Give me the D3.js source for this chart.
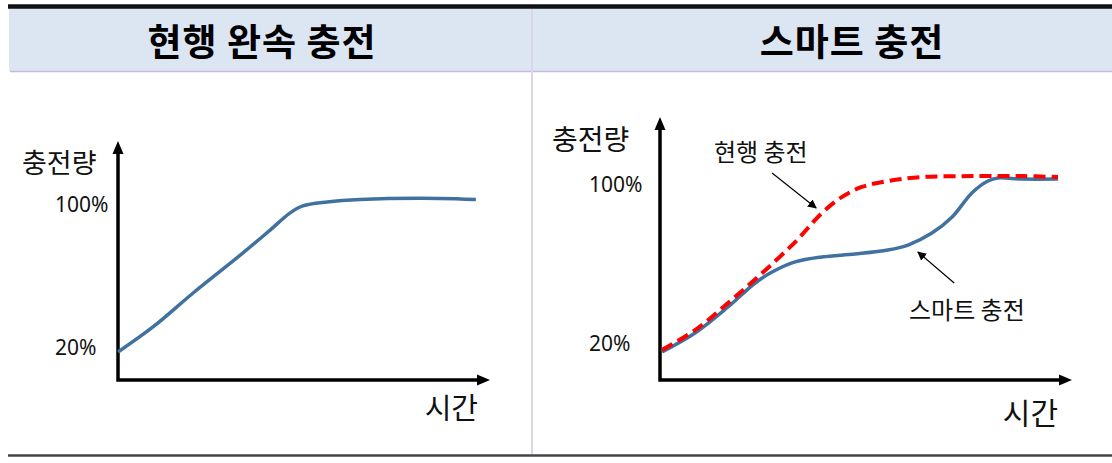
<!DOCTYPE html>
<html>
<head>
<meta charset="utf-8">
<script src="https://cdn.jsdelivr.net/npm/d3@7"></script>
<style>
	body { margin: 0; background: #fff; }
	svg { display: block; font-family: "Noto Sans CJK KR", "Noto Sans", sans-serif; }
</style>
</head>
<body>
<svg id="chart" width="1112" height="463"></svg>
<script>

// panel titles and axis texts
var panelTitles = ['현행 완속 충전', '스마트 충전'];
var yAxisTitle = '충전량';
var xAxisTitle = '시간';
var yTickValues = [20, 100];
var yTickLabels = ['20%', '100%'];
var seriesNames = ['현행 충전', '스마트 충전'];

// left panel: current slow charging (time 0-100, charge %)
var timeSlow = [0, 9.4, 20.2, 33.6, 40.9, 46.2, 49.7, 56.2, 65.1, 86.3, 96.2];
var chargeSlow = [17.5, 31.5, 50.5, 72.9, 85.7, 95.2, 99.2, 101.4, 102.8, 103.4, 102.8];

// right panel: current charging (dashed red)
var timeCurrent = [0.5, 8.5, 16.5, 24.8, 32.8, 39.3, 44.2, 49.0, 55.3, 63.6, 75.7, 87.9, 96.6];
var chargeCurrent = [17.0, 27.0, 40.6, 55.7, 71.3, 85.9, 94.0, 99.0, 102.0, 104.0, 104.5, 104.5, 104.0];

// right panel: smart charging (blue)
var timeSmart = [0.5, 8.5, 16.5, 23.1, 27.2, 32.8, 39.3, 47.3, 55.3, 60.2, 66.0, 70.9, 75.7, 79.6, 82.0, 87.9, 96.6];
var chargeSmart = [16.0, 25.5, 38.6, 50.7, 56.2, 61.3, 63.8, 65.3, 67.3, 69.8, 75.8, 83.9, 96.0, 102.0, 103.5, 103.0, 103.0];

var blue = '#41719f';
var red = '#ff0000';

var svg = d3.select('#chart');

// header band and frame lines
svg.append('rect')
	.attr('x', 9).attr('y', 8)
	.attr('width', 1103).attr('height', 63)
	.attr('fill', '#dce6f2');

svg.append('line')
	.attr('x1', 8).attr('x2', 1112)
	.attr('y1', 6.5).attr('y2', 6.5)
	.attr('stroke', '#111').attr('stroke-width', 4.5);

svg.append('line')
	.attr('x1', 10).attr('x2', 1112)
	.attr('y1', 71.5).attr('y2', 71.5)
	.attr('stroke', '#c7b9de').attr('stroke-width', 1.5);

svg.append('line')
	.attr('x1', 532).attr('x2', 532)
	.attr('y1', 9).attr('y2', 454)
	.attr('stroke', '#ddd5ec').attr('stroke-width', 2);

svg.append('line')
	.attr('x1', 8).attr('x2', 1112)
	.attr('y1', 455.5).attr('y2', 455.5)
	.attr('stroke', '#444').attr('stroke-width', 2.5);

svg.selectAll('.title')
	.data(panelTitles)
	.enter()
	.append('text')
	.attr('class', 'title')
	.attr('x', function (d, i) { return i == 0 ? 262 : 852; })
	.attr('y', 56)
	.attr('text-anchor', 'middle')
	.attr('font-size', 37)
	.attr('font-weight', 'bold')
	.attr('letter-spacing', 1)
	.text(function (d) { return d; });

// draws one panel's axes and labels, returns its scales
var drawPanel = function (p) {

	var x = d3.scaleLinear().domain([0, 100]).range([p.left, p.right]);
	var y = d3.scaleLinear().domain([20, 100]).range([p.y20, p.y100]);

	var g = svg.append('g');

	// axes with filled arrow heads
	g.append('path')
		.attr('d', 'M' + p.left + ',' + (p.top + 10) + 'V' + p.base + 'H' + (p.right - 10))
		.attr('fill', 'none')
		.attr('stroke', '#000')
		.attr('stroke-width', 3.5)
		.attr('stroke-linejoin', 'miter');

	g.append('path')
		.attr('d', 'M' + p.left + ',' + p.top + 'l-5.5,13h11z')
		.attr('fill', '#000');

	g.append('path')
		.attr('d', 'M' + p.right + ',' + p.base + 'l-13,-5.5v11z')
		.attr('fill', '#000');

	g.selectAll('.tick')
		.data(yTickValues)
		.enter()
		.append('text')
		.attr('x', p.tickX)
		.attr('y', function (d) { return y(d); })
		.attr('dy', '0.35em')
		.attr('font-family', '"Noto Sans", sans-serif')
		.attr('font-size', 21)
		.attr('fill', '#111')
		.text(function (d, i) { return yTickLabels[i]; });

	g.append('text')
		.attr('x', p.yTitleX).attr('y', p.yTitleY)
		.attr('font-size', p.titleSize)
		.attr('fill', '#111')
		.text(yAxisTitle);

	g.append('text')
		.attr('x', p.xTitleX).attr('y', p.xTitleY)
		.attr('text-anchor', 'end')
		.attr('font-size', p.titleSize + 2)
		.attr('fill', '#111')
		.text(xAxisTitle);

	return { x: x, y: y, g: g };
}

var addLine = function (panel, times, values, color, dash) {
	var pts = times.map(function (t, i) { return [t, values[i]]; });
	var line = d3.line()
		.x(function (d) { return panel.x(d[0]); })
		.y(function (d) { return panel.y(d[1]); })
		.curve(d3.curveCatmullRom.alpha(0.5));
	panel.g.append('path')
		.datum(pts)
		.attr('d', line)
		.attr('fill', 'none')
		.attr('stroke', color)
		.attr('stroke-width', dash ? 4 : 3.5)
		.attr('stroke-dasharray', dash ? '12,6' : null)
		.attr('stroke-linecap', 'butt');
}

var left = drawPanel({
	left: 118, right: 490, top: 141, base: 380,
	y20: 347.5, y100: 204.5, tickX: 55,
	yTitleX: 22, yTitleY: 173, xTitleX: 478, xTitleY: 419, titleSize: 27
});
addLine(left, timeSlow, chargeSlow, blue, false);

var right = drawPanel({
	left: 660, right: 1072, top: 117, base: 380,
	y20: 344, y100: 185, tickX: 589,
	yTitleX: 552, yTitleY: 150, xTitleX: 1058, xTitleY: 424, titleSize: 28
});
addLine(right, timeSmart, chargeSmart, blue, false);
addLine(right, timeCurrent, chargeCurrent, red, true);

// annotations with thin arrows
var defs = svg.append('defs');
defs.append('marker')
	.attr('id', 'head')
	.attr('viewBox', '0 0 10 10')
	.attr('refX', 9).attr('refY', 5)
	.attr('markerWidth', 9).attr('markerHeight', 9)
	.attr('markerUnits', 'userSpaceOnUse')
	.attr('orient', 'auto')
	.append('path')
	.attr('d', 'M0,0L10,5L0,10z')
	.attr('fill', '#000');

var notes = [
	{ name: seriesNames[0], tx: 714, ty: 161, from: [27.2, 106.0], to: [37.9, 88.4] },
	{ name: seriesNames[1], tx: 909, ty: 319, from: [71.4, 50.7], to: [62.6, 66.3] }
];

notes.forEach(function (n) {
	right.g.append('line')
		.attr('x1', right.x(n.from[0])).attr('y1', right.y(n.from[1]))
		.attr('x2', right.x(n.to[0])).attr('y2', right.y(n.to[1]))
		.attr('stroke', '#000').attr('stroke-width', 1.2)
		.attr('marker-end', 'url(#head)');
	right.g.append('text')
		.attr('x', n.tx).attr('y', n.ty)
		.attr('font-size', 24)
		.attr('fill', '#111')
		.text(n.name);
});

</script>
</body>
</html>
